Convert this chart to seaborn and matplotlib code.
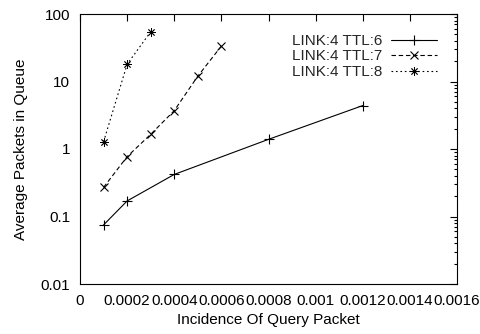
"""Average queue length vs query incidence (gnuplot-style reproduction)."""

import matplotlib
matplotlib.use("Agg")
import matplotlib.pyplot as plt
import matplotlib.ticker as mticker
import numpy as np
import pandas as pd
import seaborn as sns

# data
ttl6_x = [0.0001, 0.0002, 0.0004, 0.0008, 0.0012]
ttl6_y = [0.075, 0.17, 0.42, 1.39, 4.4]
ttl7_x = [0.0001, 0.0002, 0.0003, 0.0004, 0.0005, 0.0006]
ttl7_y = [0.27, 0.77, 1.65, 3.7, 12.0, 33.5]
ttl8_x = [0.0001, 0.0002, 0.0003]
ttl8_y = [1.28, 18.0, 54.5]
series_labels = ["LINK:4 TTL:6", "LINK:4 TTL:7", "LINK:4 TTL:8"]
x_ticks = [0, 0.0002, 0.0004, 0.0006, 0.0008, 0.001, 0.0012, 0.0014, 0.0016]
x_tick_labels = ["0", "0.0002", "0.0004", "0.0006", "0.0008", "0.001",
                 "0.0012", "0.0014", "0.0016"]
y_ticks = [0.01, 0.1, 1, 10, 100]
y_tick_labels = ["0.01", "0.1", "1", "10", "100"]

sns.set_theme(style="white")
plt.rcParams["font.family"] = ["Liberation Sans", "DejaVu Sans"]
plt.rcParams["font.size"] = 11

fig = plt.figure(figsize=(4.8, 3.34), dpi=100)
ax = fig.add_axes([80 / 480, 50 / 334, 377 / 480, 270 / 334])

styles = [
    dict(marker="+", linestyle="-", markersize=7, markeredgewidth=0.8),
    dict(marker="x", linestyle=(0, (4, 2.5)), markersize=6, markeredgewidth=0.8),
    dict(marker=(8, 2, 0), linestyle=(0, (1.5, 2.5)), markersize=6,
         markeredgewidth=0.6),
]
xs = [ttl6_x, ttl7_x, ttl8_x]
ys = [ttl6_y, ttl7_y, ttl8_y]
for x, y, label, st in zip(xs, ys, series_labels, styles):
    df = pd.DataFrame({"x": x, "y": y})
    sns.lineplot(data=df, x="x", y="y", ax=ax, color="black", linewidth=0.8,
                 markeredgecolor="black", markerfacecolor="black",
                 label=label, **st)

ax.set_yscale("log")
ax.set_xlim(0, 0.0016)
ax.set_ylim(0.01, 100)
ax.set_xticks(x_ticks)
ax.set_xticklabels(x_tick_labels)
ax.set_yticks(y_ticks)
ax.set_yticklabels(y_tick_labels)
ax.yaxis.set_minor_locator(mticker.LogLocator(base=10, subs=np.arange(2, 10)))
ax.yaxis.set_minor_formatter(mticker.NullFormatter())

ax.tick_params(which="both", direction="in", top=True, right=True,
               color="black", width=0.8, labelsize=11, labelcolor="black")
ax.tick_params(which="major", length=5)
ax.tick_params(which="minor", length=2.5)
ax.tick_params(axis="y", pad=7)
ax.tick_params(axis="x", pad=7)
for sp in ax.spines.values():
    sp.set_color("black")
    sp.set_linewidth(0.8)

ax.set_xlabel("Incidence Of Query Packet", fontsize=11, color="black", labelpad=4)
ax.set_ylabel("Average Packets in Queue", fontsize=11, color="black", labelpad=9)

ax.legend(loc="upper right", frameon=False, markerfirst=False, handlelength=3.0,
          labelspacing=0.1, borderaxespad=0.9, handletextpad=0.6, fontsize=11)

fig.savefig("out.png", dpi=100)
